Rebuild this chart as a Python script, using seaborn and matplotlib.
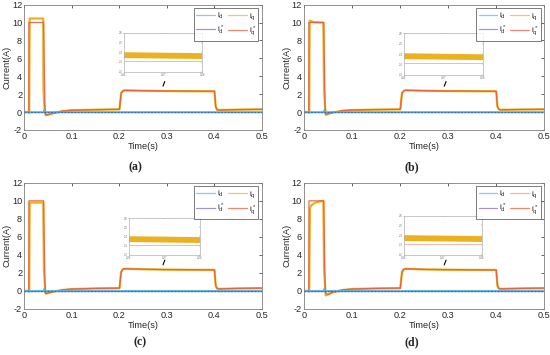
import matplotlib
matplotlib.use("Agg")
import matplotlib.pyplot as plt
import seaborn as sns

sns.set_theme(style="white")
plt.rcParams['font.family'] = ['Liberation Sans', 'DejaVu Sans']
plt.rcParams['axes.unicode_minus'] = False
plt.rcParams['mathtext.default'] = 'regular'

# ---- data (time in s, current in A) ----
# d-axis currents: zero with tiny blips at the switching instants
t_id = [0, 0.0099, 0.0105, 0.012, 0.0405, 0.042, 0.044, 0.5]
id_vals = [0, 0, -0.12, 0, 0, 0.25, 0, 0]
t_idref = [0, 0.5]
idref_vals = [0, 0]

# shared tail of q-axis current after the start-up pulse
t_tail = [0.045, 0.05, 0.06, 0.08, 0.1, 0.15, 0.2, 0.2005, 0.204, 0.208, 0.212,
          0.25, 0.3, 0.35, 0.4, 0.4005, 0.403, 0.406, 0.41, 0.45, 0.5]

panels = ['(a)', '(b)', '(c)', '(d)']

# q-axis start-up pulse, per panel
t_head_iq = {
    '(a)': [0, 0.0105, 0.0115, 0.04, 0.0405, 0.0425],
    '(b)': [0, 0.0105, 0.0115, 0.015, 0.02, 0.04, 0.0415, 0.044],
    '(c)': [0, 0.0105, 0.0115, 0.04, 0.0415, 0.044],
    '(d)': [0, 0.0105, 0.012, 0.015, 0.02, 0.025, 0.03, 0.04, 0.0415, 0.044],
}
head_iq = {
    '(a)': [0, 0, 10.45, 10.45, 2.6, 0.5],
    '(b)': [0, 0, 10.2, 10.15, 10.05, 10.0, 2.5, 0.3],
    '(c)': [0, 0, 9.8, 9.8, 2.5, 0.3],
    '(d)': [0, 0, 9.2, 9.5, 9.7, 9.82, 9.9, 10.0, 2.5, 0.3],
}
tail_iq = {
    '(a)': [-0.35, -0.3, -0.15, 0.1, 0.2, 0.26, 0.3, 0.3, 2.1, 2.38, 2.42,
            2.38, 2.35, 2.33, 2.32, 2.3, 0.6, 0.25, 0.22, 0.27, 0.3],
    '(b)': [-0.3, -0.2, -0.05, 0.15, 0.22, 0.27, 0.3, 0.3, 2.1, 2.38, 2.43,
            2.38, 2.35, 2.33, 2.32, 2.3, 0.6, 0.3, 0.25, 0.28, 0.3],
    '(c)': [-0.3, -0.25, -0.1, 0.1, 0.2, 0.27, 0.3, 0.3, 2.1, 2.42, 2.46,
            2.4, 2.36, 2.34, 2.33, 2.3, 0.6, 0.25, 0.22, 0.27, 0.3],
    '(d)': [-0.5, -0.4, -0.15, 0.1, 0.2, 0.27, 0.3, 0.3, 2.1, 2.42, 2.45,
            2.38, 2.35, 2.33, 2.32, 2.3, 0.6, 0.25, 0.22, 0.27, 0.3],
}
t_head_ref = [0, 0.0098, 0.01, 0.041, 0.042, 0.0435, 0.045]
head_ref = [0, 0, 10, 10, 6.0, 1.0, -0.3]

# zoomed inset window (iq ripple band and reference)
inset_t = [0.26, 0.28]
inset_iq = {'(a)': [2.37, 2.36], '(b)': [2.38, 2.37], '(c)': [2.37, 2.36], '(d)': [2.37, 2.36]}
inset_ref = [2.31, 2.31]

c_id, c_idref, c_iq, c_iqref = '#58B4E8', '#7E6B9E', '#EDB120', '#E5573A'

fig = plt.figure(figsize=(5.5, 3.55), dpi=100)
axes_pos = {
    '(a)': [0.044, 0.634, 0.432, 0.353],
    '(b)': [0.553, 0.634, 0.436, 0.353],
    '(c)': [0.044, 0.130, 0.432, 0.355],
    '(d)': [0.553, 0.130, 0.436, 0.355],
}
inset_pos = {
    '(a)': [0.42, 0.465, 0.33, 0.31],
    '(b)': [0.415, 0.44, 0.33, 0.33],
    '(c)': [0.44, 0.43, 0.30, 0.29],
    '(d)': [0.415, 0.43, 0.325, 0.31],
}
label_x = {'(a)': 0.247, '(b)': 0.749, '(c)': 0.255, '(d)': 0.748}
label_y = {'(a)': 0.53, '(b)': 0.53, '(c)': 0.035, '(d)': 0.035}

grey = '#808080'
for p in panels:
    ax = fig.add_axes(axes_pos[p])
    t_iq = t_head_iq[p] + t_tail
    iq = head_iq[p] + tail_iq[p]
    t_ref = t_head_ref + t_tail[1:]
    ref = head_ref + tail_iq[p][1:]

    sns.lineplot(x=t_iq, y=iq, ax=ax, color=c_iq, linewidth=1.6, estimator=None,
                 sort=False, label=r'$i_q$')
    sns.lineplot(x=t_ref, y=ref, ax=ax, color=c_iqref, linewidth=0.9, alpha=0.85,
                 estimator=None, sort=False, label=r'$i^*_q$')
    sns.lineplot(x=t_idref, y=idref_vals, ax=ax, color=c_idref, linewidth=1.0,
                 estimator=None, sort=False, label=r'$i^*_d$')
    sns.lineplot(x=t_id, y=id_vals, ax=ax, color=c_id, linewidth=1.1, estimator=None,
                 sort=False, label=r'$i_d$')
    ax.plot(t_idref, idref_vals, color='#2F6DB5', linewidth=0.8, dashes=(1.5, 1.5))

    ax.set_xlim(0, 0.5)
    ax.set_ylim(-2, 12)
    ax.set_xticks([0, 0.1, 0.2, 0.3, 0.4, 0.5])
    ax.set_xticklabels(['0', '0.1', '0.2', '0.3', '0.4', '0.5'])
    ax.set_yticks([-2, 0, 2, 4, 6, 8, 10, 12])
    ax.tick_params(direction='in', length=2, width=0.5, labelsize=6.6, pad=1.5,
                   top=True, right=True, colors='#262626', labelcolor='#262626')
    for s in ax.spines.values():
        s.set_color(grey)
        s.set_linewidth(0.6)
    ax.set_xlabel('Time(s)', fontsize=6.6, labelpad=1, color='#262626')
    ax.set_ylabel('Current(A)', fontsize=6.6, labelpad=0.5, color='#262626')

    h, l = ax.get_legend_handles_labels()
    order = [3, 2, 0, 1]
    leg = ax.legend([h[i] for i in order], [l[i] for i in order], ncol=2,
                    loc='upper right', fontsize=6, frameon=True, fancybox=False,
                    borderaxespad=0.4, handlelength=2.2, columnspacing=0.5,
                    handletextpad=0.25, labelspacing=0.35, borderpad=0.3)
    leg.get_frame().set_edgecolor('#404040')
    leg.get_frame().set_linewidth(0.6)
    for ln in leg.get_lines():
        ln.set_linewidth(0.9)
        ln.set_alpha(0.7)

    # arrow from the flat top to the inset
    ax.annotate('', xy=(0.298, 3.7), xytext=(0.290, 2.6),
                arrowprops=dict(arrowstyle='-', color='black', lw=0.8))

    ins = ax.inset_axes(inset_pos[p])
    sns.lineplot(x=inset_t, y=inset_ref, ax=ins, color=c_iqref, linewidth=0.6,
                 alpha=0.5, estimator=None)
    sns.lineplot(x=inset_t, y=inset_iq[p], ax=ins, color=c_iq, linewidth=4.2,
                 estimator=None)
    ins.set_xlim(0.26, 0.28)
    ins.set_ylim(2.2, 2.6)
    ins.set_xticks([0.26, 0.27, 0.28])
    ins.set_yticks([2.2, 2.3, 2.4, 2.5, 2.6])
    ins.tick_params(direction='in', length=1, width=0.3, labelsize=2, pad=1,
                    colors='#707070', top=True, right=True)
    for s in ins.spines.values():
        s.set_color('#b0b0b0')
        s.set_linewidth(0.5)
    ins.set_xlabel('')
    ins.set_ylabel('')

    fig.text(label_x[p], label_y[p], p, ha='center', va='center', fontsize=8.5,
             fontweight='bold', family=['Liberation Serif', 'DejaVu Serif'])

fig.savefig('out.png', dpi=100)
